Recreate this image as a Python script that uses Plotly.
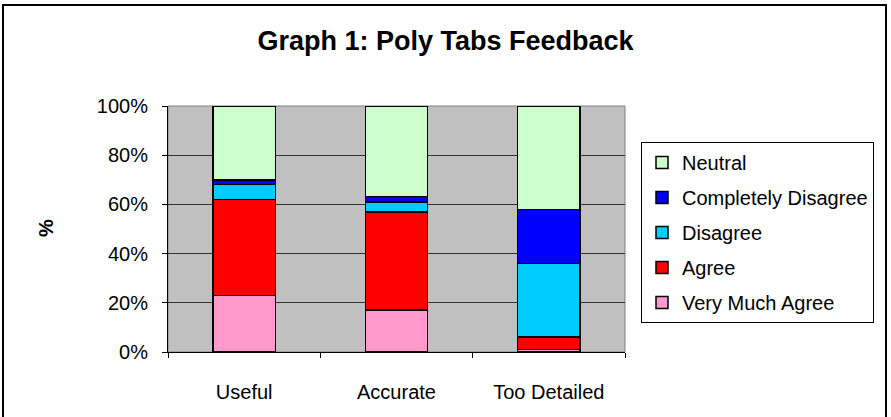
import plotly.graph_objects as go

categories = ["Useful", "Accurate", "Too Detailed"]

very_much_agree = [23, 17, 1]
agree = [39, 40, 5]
disagree = [6, 4, 30]
completely_disagree = [2, 2.3, 22]
neutral = [30, 36.7, 42]

series = [
    ("Very Much Agree", very_much_agree, "#FF99CC"),
    ("Agree", agree, "#FF0000"),
    ("Disagree", disagree, "#00CCFF"),
    ("Completely Disagree", completely_disagree, "#0000FF"),
    ("Neutral", neutral, "#CCFFCC"),
]

FONT = "Arial, Liberation Sans, sans-serif"

W, H = 891, 417
L, R, T, B = 168, 266, 106, 65
pw, ph = W - L - R, H - T - B


def px_x(x):
    return (x - L) / pw


def px_y(y):
    return (H - B - y) / ph


fig = go.Figure()

for i, (name, vals, color) in enumerate(series):
    fig.add_trace(
        go.Bar(
            x=categories,
            y=vals,
            name=name,
            legendgroup=name,
            legendrank=100 - i,
            marker=dict(color=color, line=dict(color="black", width=1.5)),
        )
    )

fig.update_layout(
    width=W,
    height=H,
    barmode="stack",
    bargap=0.59,
    paper_bgcolor="white",
    plot_bgcolor="#C0C0C0",
    margin=dict(l=L, r=R, t=T, b=B, autoexpand=False),
    font=dict(family=FONT, size=20, color="black"),
    title=dict(
        text="<b>Graph 1: Poly Tabs Feedback</b>",
        x=0.5,
        xref="container",
        y=1 - 41 / H,
        yanchor="middle",
        font=dict(family=FONT, size=27),
    ),
    xaxis=dict(
        showline=True,
        linecolor="black",
        linewidth=1,
        ticks="outside",
        tickson="boundaries",
        ticklen=5,
        tickcolor="black",
        ticklabelstandoff=22,
        showgrid=False,
        fixedrange=True,
    ),
    yaxis=dict(
        range=[0, 100],
        tickvals=[0, 20, 40, 60, 80, 100],
        ticktext=["0%", "20%", "40%", "60%", "80%", "100%"],
        showline=True,
        linecolor="black",
        linewidth=1,
        ticks="outside",
        ticklen=5,
        tickcolor="black",
        ticklabelstandoff=10,
        showgrid=True,
        gridcolor="#333333",
        gridwidth=1,
        zeroline=False,
        fixedrange=True,
    ),
    legend=dict(
        x=px_x(641),
        y=px_y(142),
        xanchor="left",
        yanchor="top",
        traceorder="grouped",
        bordercolor="black",
        borderwidth=1,
        bgcolor="white",
        tracegroupgap=6,
        font=dict(family=FONT, size=20),
    ),
    showlegend=True,
)

fig.add_annotation(
    text="<b>%</b>",
    xref="paper",
    yref="paper",
    x=px_x(46),
    y=px_y(228),
    xanchor="center",
    yanchor="middle",
    textangle=-90,
    showarrow=False,
    font=dict(family=FONT, size=20),
)

# plot area border
fig.add_shape(
    type="rect",
    xref="paper",
    yref="paper",
    x0=0,
    x1=1,
    y0=0,
    y1=1,
    line=dict(color="#808080", width=1),
    layer="below",
)

# outer chart frame
fig.add_shape(
    type="rect",
    xref="paper",
    yref="paper",
    x0=px_x(3),
    x1=px_x(886),
    y0=px_y(425),
    y1=px_y(5),
    line=dict(color="black", width=2),
)

fig.write_html(
    "out.html",
    config={"displayModeBar": False},
    post_script="document.body.style.margin='0';",
)
